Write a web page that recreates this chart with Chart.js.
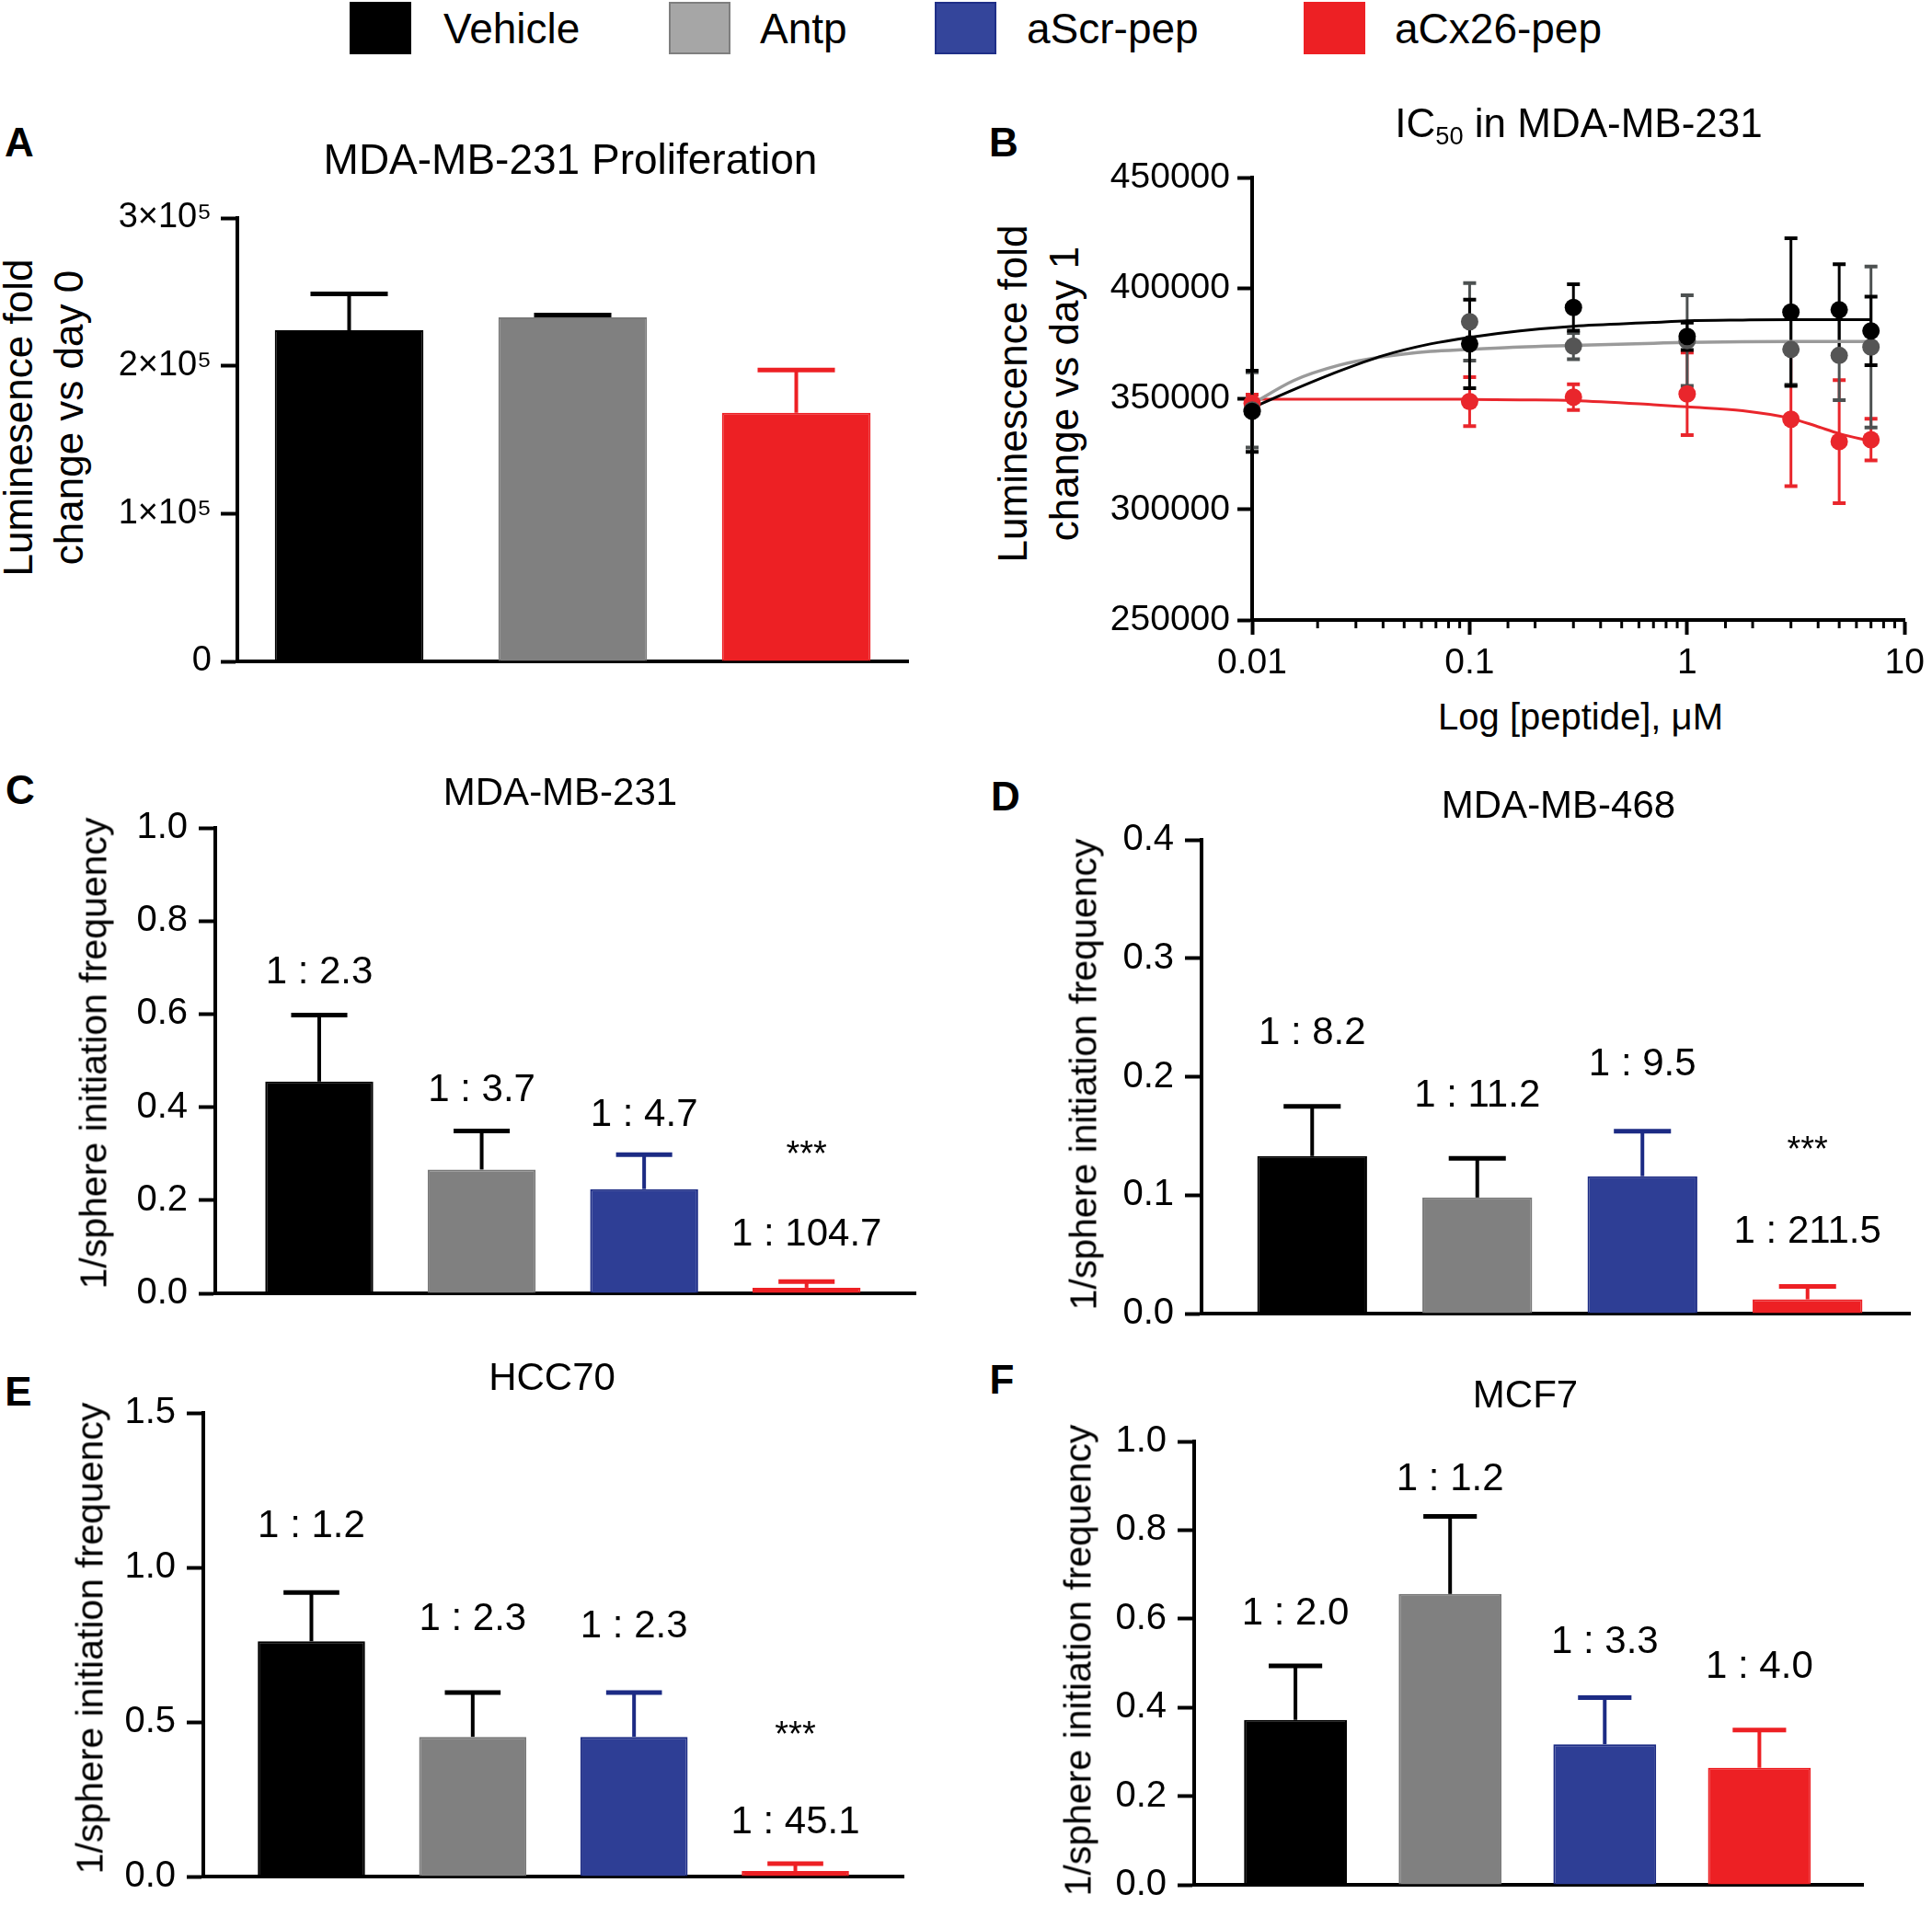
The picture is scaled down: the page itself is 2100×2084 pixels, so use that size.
<!DOCTYPE html>
<html>
<head>
<meta charset="utf-8">
<title>Cx26 peptide figure</title>
<script src="https://cdn.jsdelivr.net/npm/chart.js@4.4.1/dist/chart.umd.min.js"></script>
<style>
  html, body { margin: 0; padding: 0; background: #fff; }
  body { position: relative; width: 2100px; height: 2084px; overflow: hidden;
         font-family: 'Liberation Sans', Arial, sans-serif; color: #000; }
  canvas { position: absolute; }
  .t { position: absolute; white-space: nowrap; line-height: 1; transform: translate(-50%, -50%); z-index: 2; }
  .tl { position: absolute; white-space: nowrap; line-height: 1; transform: translate(0, -50%); z-index: 2; }
  .v { position: absolute; white-space: nowrap; text-align: center; transform: translate(-50%, -50%) rotate(-90deg); z-index: 2; }
  .sw { position: absolute; box-sizing: border-box; border: 2px solid; }
  sub { font-size: 0.62em; vertical-align: -0.3em; line-height: 0; }
</style>
</head>
<body>
<script>
// groups shared by every panel
const groupNames = ['Vehicle', 'Antp', 'aScr-pep', 'aCx26-pep'];
const groupFill = ['#000000', '#808080', '#2e3e95', '#ed2024'];
const groupEdge = ['#000000', '#787878', '#1c2b84', '#ed2024'];
const groupErr = ['#000000', '#000000', '#1c2b84', '#ed2024'];
const legendFill = ['#000000', '#a6a6a6', '#34459b', '#ed2024'];
const legendEdge = ['#000000', '#7f7f7f', '#1f2f88', '#ed2024'];

// A - proliferation
const aNames = ['Vehicle', 'Antp', 'aCx26-pep'];
const aMean = [224000, 232800, 168200];
const aSd = [24700, 1600, 29000];
const aTickLabels = ['0', '1×10⁵', '2×10⁵', '3×10⁵'];

// B - IC50 curves
const doses = [0.01, 0.1, 0.3, 1, 3, 5, 7];
const vehicleMean = [344400, 374900, 391400, 378300, 389300, 390300, 380800];
const vehicleSd = [18400, 20000, 10500, 6200, 33400, 20600, 15500];
const antpMean = [345000, 384900, 373900, 376400, 372400, 369700, 373500];
const antpSd = [17000, 17500, 5900, 20500, 16000, 20200, 36400];
const cx26Mean = [348000, 348800, 350800, 352300, 340800, 330700, 331600];
const cx26Sd = [4000, 11100, 5800, 18700, 30200, 27800, 9400];
const fitDose = [0.01, 0.0156, 0.025, 0.04, 0.066, 0.1, 0.17, 0.3, 0.7, 1, 1.8, 3, 3.9, 5, 7];
const vehicleFit = [346000, 354300, 362500, 369600, 374900, 377900, 380800, 382900, 384600, 385300, 385700, 385900, 385900, 385900, 385900];
const antpFit = [347700, 358400, 365200, 369100, 371500, 372400, 373500, 374200, 375200, 375600, 375900, 376000, 376000, 376000, 376000];
const cx26Fit = [349900, 349900, 349900, 349900, 349900, 349800, 349600, 349300, 347400, 346400, 344700, 341200, 337800, 334300, 330900];
const bXTickLabels = ['0.01', '0.1', '1', '10'];
const bYTickLabels = ['250000', '300000', '350000', '400000', '450000'];

// C-F - sphere initiation frequency
const sphereNames = ['Vehicle', 'Antp', 'aScr-pep', 'aCx26-pep'];
const cMean = [0.455, 0.266, 0.224, 0.012];
const cSd = [0.143, 0.083, 0.074, 0.013];
const cRatio = ['1 : 2.3', '1 : 3.7', '1 : 4.7', '1 : 104.7'];
const cStars = ['', '', '', '***'];
const cTickLabels = ['0.0', '0.2', '0.4', '0.6', '0.8', '1.0'];

const dMean = [0.133, 0.098, 0.116, 0.012];
const dSd = [0.042, 0.033, 0.038, 0.011];
const dRatio = ['1 : 8.2', '1 : 11.2', '1 : 9.5', '1 : 211.5'];
const dStars = ['', '', '', '***'];
const dTickLabels = ['0.0', '0.1', '0.2', '0.3', '0.4'];

const eMean = [0.761, 0.452, 0.452, 0.018];
const eSd = [0.158, 0.143, 0.143, 0.024];
const eRatio = ['1 : 1.2', '1 : 2.3', '1 : 2.3', '1 : 45.1'];
const eStars = ['', '', '', '***'];
const eTickLabels = ['0.0', '0.5', '1.0', '1.5'];

const fMean = [0.372, 0.656, 0.317, 0.264];
const fSd = [0.122, 0.175, 0.105, 0.085];
const fRatio = ['1 : 2.0', '1 : 1.2', '1 : 3.3', '1 : 4.0'];
const fStars = ['', '', '', ''];
const fTickLabels = ['0.0', '0.2', '0.4', '0.6', '0.8', '1.0'];

const baseFamily = "'Liberation Sans', Arial, sans-serif";
Chart.defaults.font.family = baseFamily;
Chart.defaults.color = '#000';

// ---- helpers ----
function addText(html, x, y, size, cls, extra) {
    const d = document.createElement('div');
    d.className = cls || 't';
    d.style.left = x + 'px';
    d.style.top = y + 'px';
    d.style.fontSize = size + 'px';
    if (extra) Object.assign(d.style, extra);
    d.innerHTML = html;
    document.body.appendChild(d);
}

function placeCanvas(area, m) {
    const c = document.createElement('canvas');
    const w = area.r - area.l + m.l + m.r;
    const h = area.b - area.t + m.t + m.b;
    c.width = w;
    c.height = h;
    c.style.left = (area.l - m.l) + 'px';
    c.style.top = (area.t - m.t) + 'px';
    c.style.width = w + 'px';
    c.style.height = h + 'px';
    document.body.appendChild(c);
    return c;
}

function isDecade(v) {
    const l = Math.log10(v);
    return Math.abs(l - Math.round(l)) < 1e-6;
}

// error bars on top of bars (mean + SD)
const barErrPlugin = {
    id: 'barErr',
    afterDatasetsDraw(chart) {
        const ds = chart.data.datasets[0];
        const meta = chart.getDatasetMeta(0);
        const y = chart.scales.y;
        const ctx = chart.ctx;
        ctx.save();
        meta.data.forEach((bar, i) => {
            const top = y.getPixelForValue(ds.data[i].y);
            const cap = y.getPixelForValue(ds.data[i].y + ds.sd[i]);
            const half = bar.width * 0.26;
            ctx.strokeStyle = ds.errColor[i];
            ctx.lineWidth = 4;
            ctx.beginPath();
            ctx.moveTo(bar.x, top);
            ctx.lineTo(bar.x, cap);
            ctx.stroke();
            ctx.lineWidth = 5;
            ctx.beginPath();
            ctx.moveTo(bar.x - half, cap);
            ctx.lineTo(bar.x + half, cap);
            ctx.stroke();
        });
        ctx.restore();
    }
};

// "1 : x" frequency labels and significance stars, offset above each cap
const notesPlugin = {
    id: 'barNotes',
    afterDatasetsDraw(chart, args, opts) {
        const ds = chart.data.datasets[0];
        if (!ds.ratios) return;
        const y = chart.scales.y;
        const meta = chart.getDatasetMeta(0);
        const ctx = chart.ctx;
        ctx.save();
        ctx.fillStyle = '#000';
        ctx.textAlign = 'center';
        ctx.textBaseline = 'middle';
        meta.data.forEach((bar, i) => {
            const cap = y.getPixelForValue(ds.data[i].y + ds.sd[i]);
            const ly = cap - opts.gaps[i];
            ctx.font = '42px ' + baseFamily;
            ctx.fillText(ds.ratios[i], bar.x, ly);
            if (ds.stars[i]) {
                ctx.font = '38px ' + baseFamily;
                ctx.fillText(ds.stars[i], bar.x, ly - opts.starGap);
            }
        });
        ctx.restore();
    }
};

// symmetric error bars for the dose-response points
const pointErrPlugin = {
    id: 'pointErr',
    beforeDatasetsDraw(chart) {
        const x = chart.scales.x;
        const y = chart.scales.y;
        const ctx = chart.ctx;
        ctx.save();
        for (let d = chart.data.datasets.length - 1; d >= 0; d--) {
            const ds = chart.data.datasets[d];
            if (!ds.sd) continue;
            ctx.strokeStyle = ds.errColor;
            ds.data.forEach((p, i) => {
                const px = x.getPixelForValue(p.x);
                const hi = y.getPixelForValue(p.y + ds.sd[i]);
                const lo = y.getPixelForValue(p.y - ds.sd[i]);
                ctx.lineWidth = 3;
                ctx.beginPath();
                ctx.moveTo(px, hi);
                ctx.lineTo(px, lo);
                ctx.stroke();
                ctx.lineWidth = 4;
                ctx.beginPath();
                ctx.moveTo(px - 7, hi); ctx.lineTo(px + 7, hi);
                ctx.moveTo(px - 7, lo); ctx.lineTo(px + 7, lo);
                ctx.stroke();
            });
        }
        ctx.restore();
    }
};

// short minor ticks on the log axis
const minorTickPlugin = {
    id: 'minorTicks',
    afterDraw(chart) {
        const x = chart.scales.x;
        const y0 = chart.chartArea.bottom;
        const ctx = chart.ctx;
        ctx.save();
        ctx.strokeStyle = '#000';
        ctx.lineWidth = 3;
        x.ticks.forEach(t => {
            if (isDecade(t.value)) return;
            const px = x.getPixelForValue(t.value);
            ctx.beginPath();
            ctx.moveTo(px, y0);
            ctx.lineTo(px, y0 + 9);
            ctx.stroke();
        });
        ctx.restore();
    }
};

function barPanel(p) {
    const m = {l: 150, t: 40, r: 20, b: 44};
    const canvas = placeCanvas(p.area, m);
    const idx = p.names.map(n => groupNames.indexOf(n));
    new Chart(canvas, {
        type: 'bar',
        data: {
            datasets: [{
                data: p.means.map((v, i) => ({x: i + 1, y: v})),
                backgroundColor: idx.map(k => groupFill[k]),
                borderColor: idx.map(k => groupEdge[k]),
                borderWidth: 2,
                barPercentage: 0.665,
                categoryPercentage: 1,
                sd: p.sds,
                errColor: idx.map(k => groupErr[k]),
                ratios: p.ratios,
                stars: p.stars
            }]
        },
        options: {
            responsive: false,
            animation: false,
            devicePixelRatio: 1,
            layout: {padding: {left: 0, top: m.t, right: m.r, bottom: 0}},
            plugins: {
                legend: {display: false},
                tooltip: {enabled: false},
                barNotes: {gaps: p.gaps || [], starGap: p.starGap || 88}
            },
            scales: {
                x: {
                    type: 'linear', min: p.xRange[0], max: p.xRange[1], offset: false, z: 1,
                    ticks: {display: false},
                    grid: {display: false},
                    border: {display: true, width: 4, color: '#000'},
                    afterBuildTicks: s => { s.ticks = p.means.map((v, i) => ({value: i + 1})); },
                    afterFit: s => { s.height = m.b; }
                },
                y: {
                    min: 0, max: p.yMax,
                    ticks: {stepSize: p.yStep, callback: (v, i) => p.tickLabels[i],
                            font: {size: p.tickFont || 40}, color: '#000', padding: p.tickPad || 12},
                    grid: {drawOnChartArea: false, drawTicks: true, tickLength: 18, tickWidth: 4, tickColor: '#000'},
                    border: {display: true, width: 4, color: '#000'},
                    afterFit: s => { s.width = m.l; }
                }
            }
        },
        plugins: [barErrPlugin, notesPlugin]
    });
}

function pointSet(means, sds, color, errColor) {
    return {
        data: doses.map((d, i) => ({x: d, y: means[i]})),
        pointRadius: 9.5,
        pointBackgroundColor: color,
        pointBorderWidth: 0,
        showLine: false,
        clip: false,
        sd: sds,
        errColor: errColor
    };
}

function fitSet(values, color, width) {
    return {
        type: 'line',
        data: fitDose.map((d, i) => ({x: d, y: values[i]})),
        borderColor: color,
        borderWidth: width,
        pointRadius: 0,
        showLine: true,
        cubicInterpolationMode: 'monotone',
        clip: false
    };
}

// ---- legend ----
const legendSwatchX = [380, 727, 1016, 1417];
const legendTextX = [482, 826, 1116, 1516];
groupNames.forEach((name, i) => {
    const sw = document.createElement('div');
    sw.className = 'sw';
    Object.assign(sw.style, {left: legendSwatchX[i] + 'px', top: '2px', width: '67px', height: '57px',
        background: legendFill[i], borderColor: legendEdge[i]});
    document.body.appendChild(sw);
    addText(name, legendTextX[i], 31, 46, 'tl');
});

// ---- panel A ----
barPanel({
    area: {l: 258, t: 237, r: 987, b: 719}, xRange: [0.5, 3.5],
    names: aNames, means: aMean, sds: aSd,
    yMax: 300000, yStep: 100000, tickLabels: aTickLabels, tickFont: 38, tickPad: 10
});
addText('A', 21, 155, 44, 't', {fontWeight: 'bold'});
addText('MDA-MB-231 Proliferation', 620, 173, 46);
addText('Luminesence fold<br>change vs day 0', 47, 454, 44, 'v', {lineHeight: '55px'});

// ---- panel B ----
const layoutB = {l: 1361, t: 192, r: 2079, b: 674};
const bCanvas = placeCanvas(layoutB, {l: 170, t: 30, r: 21, b: 80});
new Chart(bCanvas, {
    type: 'scatter',
    data: {
        datasets: [
            pointSet(vehicleMean, vehicleSd, '#000000', '#000000'),
            pointSet(antpMean, antpSd, '#555555', '#4d5151'),
            pointSet(cx26Mean, cx26Sd, '#e9262c', '#e9262c'),
            fitSet(vehicleFit, '#000000', 3),
            fitSet(antpFit, '#9a9a9a', 3.5),
            fitSet(cx26Fit, '#e9262c', 3)
        ]
    },
    options: {
        responsive: false,
        animation: false,
        devicePixelRatio: 1,
        layout: {padding: {left: 0, top: 30, right: 21, bottom: 0}},
        plugins: {legend: {display: false}, tooltip: {enabled: false}},
        scales: {
            x: {
                type: 'logarithmic', min: 0.01, max: 10,
                ticks: {autoSkip: false, maxRotation: 0, font: {size: 39}, color: '#000', padding: 8,
                        callback: v => isDecade(v) ? bXTickLabels[Math.round(Math.log10(v)) + 2] : ''},
                grid: {drawOnChartArea: false, tickLength: 16, tickWidth: 4,
                       tickColor: c => (c.tick && isDecade(c.tick.value)) ? '#000' : 'rgba(0,0,0,0)'},
                border: {display: true, width: 4, color: '#000'},
                afterFit: s => { s.height = 80; }
            },
            y: {
                min: 250000, max: 450000,
                ticks: {stepSize: 50000, font: {size: 39}, color: '#000', padding: 8,
                        callback: (v, i) => bYTickLabels[i]},
                grid: {drawOnChartArea: false, tickLength: 16, tickWidth: 4, tickColor: '#000'},
                border: {display: true, width: 4, color: '#000'},
                afterFit: s => { s.width = 170; }
            }
        }
    },
    plugins: [pointErrPlugin, minorTickPlugin]
});
addText('B', 1091, 155, 44, 't', {fontWeight: 'bold'});
addText('IC<sub>50</sub> in MDA-MB-231', 1716, 134, 44);
addText('Luminescence fold<br>change vs day 1', 1129, 428, 44, 'v', {lineHeight: '56px'});
addText('Log [peptide], μM', 1718, 779, 40);

// ---- panel C ----
barPanel({
    area: {l: 234, t: 900, r: 995, b: 1406}, xRange: [0.36, 4.67],
    names: sphereNames, means: cMean, sds: cSd, ratios: cRatio, stars: cStars,
    gaps: [46, 44, 43, 51], starGap: 86,
    yMax: 1.0, yStep: 0.2, tickLabels: cTickLabels
});
addText('C', 22, 859, 44, 't', {fontWeight: 'bold'});
addText('MDA-MB-231', 609, 861, 42);
addText('1/sphere initiation frequency', 102, 1145, 41, 'v');

// ---- panel D ----
barPanel({
    area: {l: 1306, t: 913, r: 2076, b: 1428}, xRange: [0.33, 4.62],
    names: sphereNames, means: dMean, sds: dSd, ratios: dRatio, stars: dStars,
    gaps: [79, 68, 72, 59], starGap: 88,
    yMax: 0.4, yStep: 0.1, tickLabels: dTickLabels
});
addText('D', 1093, 866, 44, 't', {fontWeight: 'bold'});
addText('MDA-MB-468', 1694, 875, 42);
addText('1/sphere initiation frequency', 1178, 1168, 41, 'v');

// ---- panel E ----
barPanel({
    area: {l: 221, t: 1536, r: 982, b: 2040}, xRange: [0.33, 4.67],
    names: sphereNames, means: eMean, sds: eSd, ratios: eRatio, stars: eStars,
    gaps: [72, 80, 72, 44], starGap: 94,
    yMax: 1.5, yStep: 0.5, tickLabels: eTickLabels
});
addText('E', 20, 1513, 44, 't', {fontWeight: 'bold'});
addText('HCC70', 600, 1497, 42);
addText('1/sphere initiation frequency', 98, 1781, 41, 'v');

// ---- panel F ----
barPanel({
    area: {l: 1298, t: 1567, r: 2025, b: 2049}, xRange: [0.345, 4.67],
    names: sphereNames, means: fMean, sds: fSd, ratios: fRatio, stars: fStars,
    gaps: [56, 40, 60, 68],
    yMax: 1.0, yStep: 0.2, tickLabels: fTickLabels
});
addText('F', 1089, 1500, 44, 't', {fontWeight: 'bold'});
addText('MCF7', 1658, 1516, 42);
addText('1/sphere initiation frequency', 1172, 1805, 41, 'v');
</script>
</body>
</html>
